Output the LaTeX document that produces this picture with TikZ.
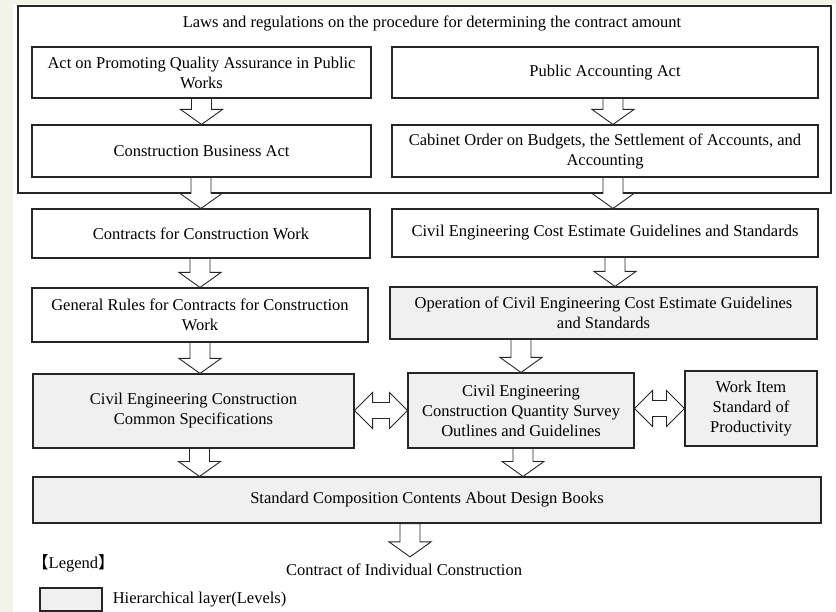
\documentclass[tikz,border=0pt]{standalone}
\usepackage{fontspec}
\setmainfont{Liberation Serif}
\newfontfamily\cjkfont{Noto Sans CJK JP}
\usetikzlibrary{calc, positioning}
\definecolor{layergray}{HTML}{F0F0F0}
\definecolor{edgeline}{HTML}{262626}
\definecolor{screentint}{HTML}{F2F4EA}

% hollow block arrows between two named nodes
\newcommand{\fatdown}[3]{%
  \draw[fatarrow] let \p1=(#1.south), \p2=(#2.north), \p3=(#3) in
    (\x3-10pt,\y1) -- (\x3+10pt,\y1) -- (\x3+10pt,\y2+15pt) -- (\x3+21pt,\y2+15pt)
    -- (\x3,\y2) -- (\x3-21pt,\y2+15pt) -- (\x3-10pt,\y2+15pt) -- cycle;}
\newcommand{\fatboth}[2]{%
  \draw[fatarrow] let \p1=(#1.east), \p2=(#2.west) in
    (\x1,\y2) -- (\x1+18pt,\y2+18pt) -- (\x1+18pt,\y2+8pt) -- (\x2-18pt,\y2+8pt)
    -- (\x2-18pt,\y2+18pt) -- (\x2,\y2) -- (\x2-18pt,\y2-18pt) -- (\x2-18pt,\y2-8pt)
    -- (\x1+18pt,\y2-8pt) -- (\x1+18pt,\y2-18pt) -- cycle;}

\begin{document}
\begin{tikzpicture}[
  x=1pt, y=-1pt,
  every node/.style={font=\fontsize{16.5}{20}\selectfont, align=center, inner sep=0pt},
  lawbox/.style={draw=edgeline, line width=1.1pt, fill=white},
  layerbox/.style={lawbox, fill=layergray},
  frame/.style={draw=edgeline, line width=1.1pt},
  fatarrow/.style={draw=edgeline, line width=0.9pt, fill=white, line join=miter}
]
\useasboundingbox (0,0) rectangle (836,612);
\fill[screentint] (0,0) rectangle (836,612);
\fill[white] (13,4) rectangle (836,612);

% laws and regulations
\node[frame, minimum width=813pt, minimum height=187pt] (laws) at (424.5,99.5) {};
\node (lawstitle) at (432,23) {Laws and regulations on the procedure for determining the contract amount};
\node[lawbox, minimum width=339pt, minimum height=51pt] (quality) at (201.5,72.5) {Act on Promoting Quality Assurance in Public\\Works};
\node[lawbox, minimum width=426pt, minimum height=51pt] (pubacc) at (605,72.5) {Public Accounting Act};
\node[lawbox, minimum width=339pt, minimum height=52pt] (business) at (201.5,151) {Construction Business Act};
\node[lawbox, minimum width=426pt, minimum height=52pt] (cabinet) at (605,151) {Cabinet Order on Budgets, the Settlement of Accounts, and\\Accounting};

% contracts and estimates
\node[lawbox, minimum width=338pt, minimum height=49pt] (contracts) at (201,233.5) {Contracts for Construction Work};
\node[lawbox, minimum width=426pt, minimum height=48pt] (costest) at (605,233) {Civil Engineering Cost Estimate Guidelines and Standards};
\node[lawbox, minimum width=336pt, minimum height=54pt] (genrules) at (200,315) {General Rules for Contracts for Construction\\Work};
\node[layerbox, minimum width=427pt, minimum height=52pt] (operation) at (603.5,313) {Operation of Civil Engineering Cost Estimate Guidelines\\and Standards};
\node[layerbox, minimum width=321pt, minimum height=74pt] (commonspec) at (193.5,411) {Civil Engineering Construction\\Common Specifications};
\node[layerbox, minimum width=226pt, minimum height=75pt] (quantity) at (521,410.5) {Civil Engineering\\Construction Quantity Survey\\Outlines and Guidelines};
\node[layerbox, minimum width=132pt, minimum height=75pt] (workitem) at (751,408.5) {Work Item\\Standard of\\Productivity};
\node[layerbox, minimum width=788pt, minimum height=46pt] (design) at (427,500) {Standard Composition Contents About Design Books};
\node[inner ysep=7pt] (individual) at (404,570) {Contract of Individual Construction};

% legend
\node[anchor=west] (legendtitle) at (32,563) {{\cjkfont 【}Legend{\cjkfont 】}};
\node[layerbox, minimum width=62pt, minimum height=23pt] (key) at (71,599.5) {};
\node[right=10pt of key] (keytext) {Hierarchical layer(Levels)};

\fatdown{quality}{business}{quality.south}
\fatdown{pubacc}{cabinet}{[xshift=8pt]pubacc.south}
\fatdown{business}{contracts}{contracts.north}
\fatdown{cabinet}{costest}{[xshift=8pt]cabinet.south}
\fatdown{contracts}{genrules}{genrules.north}
\fatdown{costest}{operation}{[xshift=10pt]costest.south}
\fatdown{genrules}{commonspec}{genrules.south}
\fatdown{operation}{quantity}{quantity.north}
\fatdown{commonspec}{design}{[xshift=6pt]commonspec.south}
\fatdown{quantity}{design}{[xshift=2pt]quantity.south}
\fatdown{design}{individual}{[xshift=6pt]individual.north}
\fatboth{commonspec}{quantity}
\fatboth{quantity}{workitem}
\end{tikzpicture}
\end{document}
